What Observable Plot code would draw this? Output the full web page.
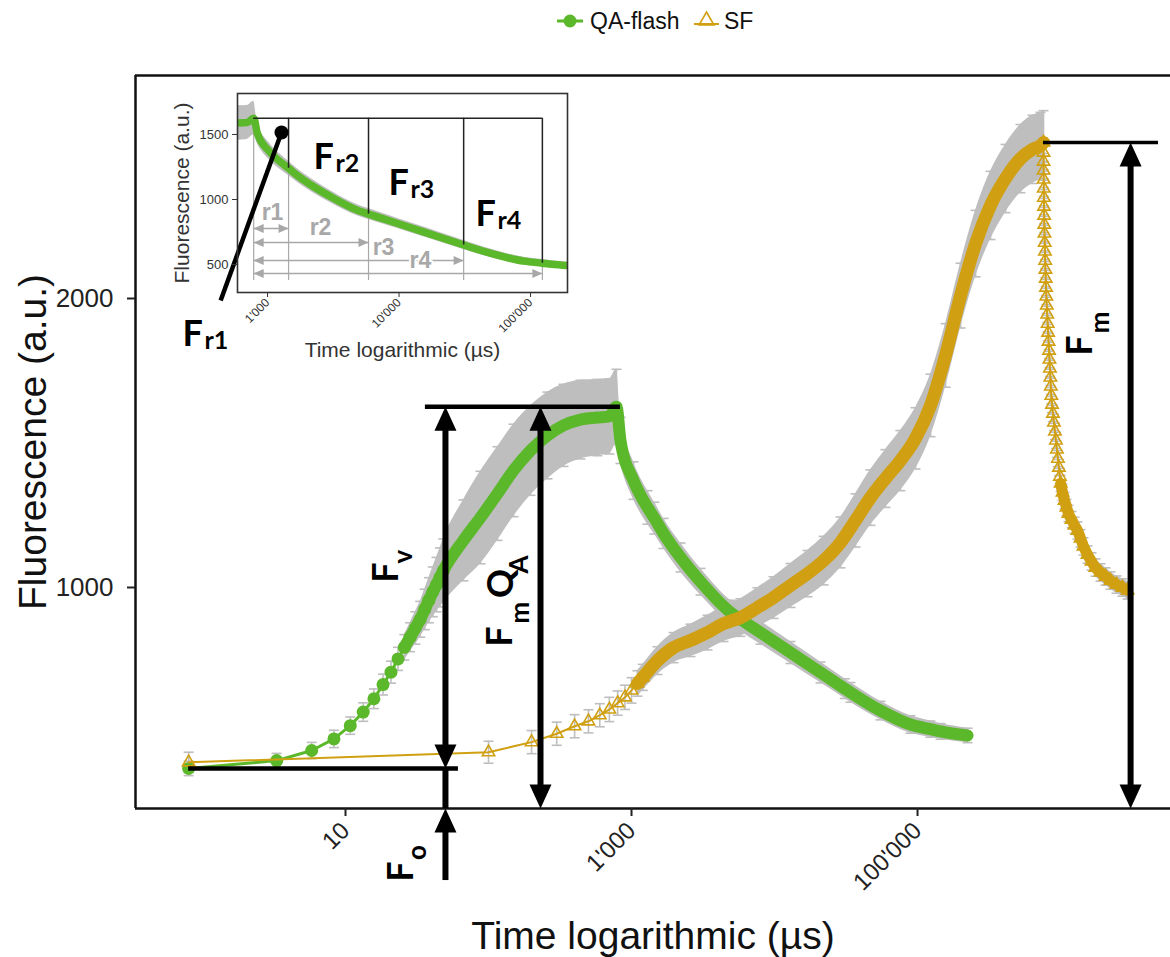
<!DOCTYPE html>
<html>
<head>
<meta charset="utf-8">
<title>QA-flash and SF fluorescence transients</title>
<script src="https://cdn.jsdelivr.net/npm/d3@7"></script>
<script src="https://cdn.jsdelivr.net/npm/@observablehq/plot@0.6"></script>
<style>
  html, body { margin: 0; padding: 0; background: #fff; overflow: hidden; }
  #wrap { position: relative; width: 1170px; height: 957px; }
  #legend svg, #main svg, #inset svg { display: block; }
  #inset { position: absolute; left: 160px; top: 88px; }
</style>
</head>
<body>
<div id="wrap">
  <div id="legend"></div>
  <div id="main"></div>
  <div id="inset"></div>
</div>
<script>
// ---------------------------------------------------------------------------
// Measured fluorescence transients (mean ± error), time in µs
// ---------------------------------------------------------------------------
const seriesNames = ["QA-flash", "SF"];

// QA-flash: rise during the single-turnover flash, then QA- reoxidation
const qaTime = [0.8, 3.3, 5.8, 8.3, 10.8, 13.3, 15.8, 18.3, 20.8, 23.3,
  25.8, 28.3, 30.8, 33.3, 35.8, 38.3, 40.8, 43.3, 45.8, 48.3,
  66.8, 87.9, 115.6, 149.6, 196.8, 258.8, 334.5, 439.5, 577.8, 700,
  784.6, 837, 1032, 1294, 1445, 1675, 2202, 3040, 4925, 5860,
  7980, 12940, 20990, 31000, 33980, 55080, 89320, 123000, 144900, 223700];
const qaValue = [374, 401, 436, 476, 522, 569, 615, 664, 707, 753,
  793, 828, 860, 890, 924, 956, 985, 1010, 1035, 1058,
  1163, 1242, 1325, 1405, 1474, 1526, 1561, 1581, 1588, 1592,
  1625, 1509, 1370, 1277, 1240, 1187, 1104, 1020, 914, 888,
  844, 775, 706, 650, 637, 574, 526, 510, 502, 488];
const qaError = [25, 25, 28, 30, 30, 32, 34, 36, 38, 40,
  44, 50, 56, 62, 70, 78, 86, 94, 102, 110,
  140, 160, 162, 160, 155, 150, 142, 136, 132, 130,
  130, 80, 65, 58, 55, 52, 50, 46, 42, 42,
  40, 38, 36, 34, 34, 32, 30, 28, 27, 25];

// SF: saturating flash, rise to Fm and the dark decay after it
const sfTime = [0.8, 100, 200, 300, 400, 500, 600, 700, 800, 900, 1000, 1100, 1200,
  1520, 1967, 2587, 3400, 4399, 5782, 7600, 9840, 12940, 17010, 22030, 28970, 36850,
  46880, 59640, 75870, 96840, 123300, 157000, 200000, 254700, 323800, 412200, 524800,
  636800, 724400,
  760500, 760600, 760800, 761600, 762400, 763500, 764900, 766400, 768300, 770300,
  772600, 775100, 778000, 781000, 784300, 787900, 791800, 795900, 801400, 807100,
  812900, 818900, 824900, 830900, 837000, 843200, 849400, 855600, 861900, 871500,
  885300, 899500, 913800, 928600, 943400, 958700, 974200, 990100, 1002300,
  1033000, 1066500, 1101000, 1136900, 1193800, 1253000, 1314800, 1380000, 1448400,
  1544700, 1647000, 1756800, 1904000, 2064000, 2237000, 2463000, 2713000, 2942000];
const sfValue = [395, 430, 465, 494, 520, 537, 558, 578, 600, 620, 644, 668, 689,
  747, 792, 817, 844, 875, 896, 931, 965, 1007, 1048, 1093, 1156, 1232,
  1311, 1377, 1439, 1516, 1630, 1803, 2010, 2190, 2322, 2415, 2484,
  2516, 2529,
  2540, 2505, 2474, 2443, 2412, 2381, 2349, 2318, 2287, 2256,
  2225, 2193, 2163, 2131, 2100, 2069, 2038, 2007, 1976, 1945,
  1913, 1882, 1851, 1820, 1789, 1758, 1727, 1696, 1664, 1633,
  1602, 1571, 1540, 1509, 1478, 1446, 1415, 1384, 1360,
  1329, 1301, 1277, 1256, 1235, 1215, 1197, 1170, 1142,
  1114, 1090, 1069, 1052, 1038, 1024, 1010, 1000, 990];
const sfError = [35, 38, 40, 40, 40, 40, 40, 42, 42, 42, 44, 44, 45,
  48, 52, 56, 60, 62, 65, 68, 72, 76, 80, 84, 88, 92,
  96, 100, 104, 106, 108, 110, 112, 115, 118, 118, 118,
  118, 115,
  110, 30, 28, 28, 28, 28, 28, 28, 28, 28,
  28, 28, 28, 28, 28, 28, 28, 28, 28, 28,
  28, 28, 28, 28, 28, 28, 28, 28, 28, 28,
  28, 28, 28, 28, 28, 28, 28, 28, 28,
  28, 28, 28, 28, 28, 28, 30, 30, 30,
  30, 30, 30, 30, 30, 30, 30, 30, 30];

// Axis ticks
const mainXTicks = [10, 1000, 100000];
const mainYTicks = [1000, 2000];
const insetXTicks = [1000, 10000, 100000];
const insetYTicks = [500, 1000, 1500];

// Inset: ends of the relaxation windows r1–r4 (µs)
const rEdges = [1445, 5860, 31000, 123000];
const rNames = ["r1", "r2", "r3", "r4"];
const rArrowLevel = [777, 669, 531, 431];
const rLabelTime = [1091, 2530, 7620, 14550];
const rLabelValue = [900, 785, 631, 531];

// ---------------------------------------------------------------------------
const GREEN = "#5cb82b", GOLD = "#d0a012", GREY = "#bebebe", GUIDE = "#a8a8a8";
const SANS = "'Liberation Sans', Arial, Helvetica, sans-serif";
const BOLD = "Lato, 'Open Sans', 'Liberation Sans', sans-serif";
const fmt = d => d3.format(",")(d).replace(/,/g, "'");
const plain = d => String(d);

const qa = qaTime.map((t, i) => ({t, v: qaValue[i], e: qaError[i]}));
const sf = sfTime.map((t, i) => ({t, v: sfValue[i], e: sfError[i]}));

const Fo = qaValue[0];
const FmQA = d3.max(qaValue);
const Fm = d3.max(sfValue);
const tPeakQA = qa.find(d => d.v === FmQA).t;
const tPeakSF = sf.find(d => d.v === Fm).t;

const X_DOMAIN = [0.34, 5.875e6];
const Y_DOMAIN = [235.3, 2771.6];

// filled arrow heads (apex at the origin, pointing up), error-bar caps
const bigHead = {draw(ctx) { ctx.moveTo(0, 0); ctx.lineTo(11, 24); ctx.lineTo(-11, 24); ctx.closePath(); }};
const smallHead = {draw(ctx) { ctx.moveTo(0, 0); ctx.lineTo(4.5, 10); ctx.lineTo(-4.5, 10); ctx.closePath(); }};
const cap = {draw(ctx) { ctx.moveTo(-5, 0); ctx.lineTo(5, 0); }};

const errorBars = (data, color) => [
  Plot.ruleX(data, {x: "t", y1: d => d.v - d.e, y2: d => d.v + d.e, stroke: color, strokeWidth: 1.6}),
  Plot.dot(data, {x: "t", y: d => d.v + d.e, symbol: cap, stroke: color, fill: "none", strokeWidth: 1.6}),
  Plot.dot(data, {x: "t", y: d => d.v - d.e, symbol: cap, stroke: color, fill: "none", strokeWidth: 1.6})
];
const band = (data) => Plot.areaY(data, {x: "t", y1: d => d.v - d.e, y2: d => d.v + d.e, fill: GREY, curve: "monotone-x"});

// Annotation geometry (data units)
const tFv = 50, tFmQA = 231, tFm = 3.09e6, foArrowStart = -14;
const foLineEnd = 61.6, fmqaLineStart = 36.2, fmqaLineEnd = 837, fmLineEnd = 4.84e6;
const upHeads = [{t: tFv, v: Y_DOMAIN[0]}, {t: tFv, v: FmQA}, {t: tFmQA, v: FmQA}, {t: tFm, v: Fm}];
const downHeads = [{t: tFv, v: Fo}, {t: tFmQA, v: Y_DOMAIN[0]}, {t: tFm, v: Y_DOMAIN[0]}];

const mainLabels = [
  {t: 19.35, v: 1052, text: "F", size: 36}, {t: 25.4, v: 1107, text: "v", size: 26},
  {t: 121.3, v: 830, text: "F", size: 36}, {t: 167.4, v: 913, text: "m", size: 26},
  {t: 123.3, v: 1014, text: "Q", size: 36}, {t: 164.8, v: 1080, text: "A", size: 26},
  {t: 24.6, v: 17, text: "F", size: 36}, {t: 31.9, v: 83, text: "o", size: 26},
  {t: 1.38e6, v: 1837, text: "F", size: 36}, {t: 1.904e6, v: 1917, text: "m", size: 26}
];

// ---------------------------------------------------------------------------
// Legend
const leg = d3.select("#legend").append("svg").attr("width", 1170).attr("height", 46)
  .style("font-family", SANS);
leg.append("line").attr("x1", 557).attr("x2", 583).attr("y1", 21).attr("y2", 21)
  .attr("stroke", GREEN).attr("stroke-width", 3);
leg.append("circle").attr("cx", 570).attr("cy", 21).attr("r", 6.5).attr("fill", GREEN);
leg.append("text").attr("x", 590).attr("y", 29).attr("font-size", 23).attr("fill", "#111").text(seriesNames[0]);
leg.append("line").attr("x1", 694).attr("x2", 719).attr("y1", 24).attr("y2", 24)
  .attr("stroke", GOLD).attr("stroke-width", 2);
leg.append("path").attr("d", "M706.5,12 L714,25 L699,25 Z").attr("fill", "none")
  .attr("stroke", GOLD).attr("stroke-width", 1.6);
leg.append("text").attr("x", 724).attr("y", 29).attr("font-size", 23).attr("fill", "#111").text(seriesNames[1]);

// ---------------------------------------------------------------------------
// Main chart
const main = Plot.plot({
  width: 1170,
  height: 911,
  marginLeft: 135,
  marginRight: 0,
  marginTop: 29,
  marginBottom: 149,
  x: {type: "log", domain: X_DOMAIN},
  y: {domain: Y_DOMAIN},
  style: {fontFamily: SANS, fontSize: "22px", color: "#222", background: "white", overflow: "visible"},
  marks: [
    // panel border (open on the right)
    Plot.ruleY([Y_DOMAIN[0]], {stroke: "#111", strokeWidth: 2.5}),
    Plot.ruleY([Y_DOMAIN[1]], {stroke: "#111", strokeWidth: 2.5}),
    Plot.ruleX([X_DOMAIN[0]], {stroke: "#111", strokeWidth: 2.5}),

    // error bands and bars
    band(qa.filter(d => d.t >= 25)),
    band(sf.filter(d => d.t >= 1100 && d.t <= tPeakSF)),
    band(sf.filter(d => d.t >= 1000000)),
    ...errorBars(qa, GREY),
    ...errorBars(sf, GREY),

    // QA-flash
    Plot.line(qa, {x: "t", y: "v", stroke: GREEN, strokeWidth: 3}),
    Plot.line(qa.filter(d => d.t >= 25.8), {x: "t", y: "v", stroke: GREEN, strokeWidth: 12,
      curve: "monotone-x", strokeLinecap: "round", strokeLinejoin: "round"}),
    Plot.dot(qa.filter(d => d.t <= 48.3), {x: "t", y: "v", r: 6.5, fill: GREEN}),

    // SF
    Plot.line(sf, {x: "t", y: "v", stroke: GOLD, strokeWidth: 2}),
    Plot.line(sf.filter(d => d.t >= 1100 && d.t <= tPeakSF), {x: "t", y: "v", stroke: GOLD, strokeWidth: 13,
      curve: "monotone-x", strokeLinecap: "round", strokeLinejoin: "round"}),
    Plot.line(sf.filter(d => d.t >= 1000000), {x: "t", y: "v", stroke: GOLD, strokeWidth: 11,
      curve: "monotone-x", strokeLinecap: "round", strokeLinejoin: "round"}),
    Plot.dot(sf.filter(d => d.t <= 1200 || d.t >= tPeakSF), {x: "t", y: "v", symbol: "triangle", r: 4.6,
      stroke: GOLD, fill: "none", strokeWidth: 1.6}),

    // Fo, FmQA and Fm levels
    Plot.ruleY([Fo], {x1: qaTime[0], x2: foLineEnd, stroke: "black", strokeWidth: 4.5}),
    Plot.ruleY([FmQA], {x1: fmqaLineStart, x2: fmqaLineEnd, stroke: "black", strokeWidth: 4.5}),
    Plot.ruleY([Fm], {x1: tPeakSF, x2: fmLineEnd, stroke: "black", strokeWidth: 3.5}),

    // arrow shafts (y1 = upper end, y2 = lower end), stopped short of the heads
    Plot.ruleX([tFv], {y1: Y_DOMAIN[0], y2: foArrowStart, insetTop: 20, stroke: "black", strokeWidth: 6}),
    Plot.ruleX([tFv], {y1: Fo, y2: Y_DOMAIN[0], stroke: "black", strokeWidth: 6}),
    Plot.ruleX([tFv], {y1: FmQA, y2: Fo, insetTop: 20, insetBottom: 20, stroke: "black", strokeWidth: 6}),
    Plot.ruleX([tFmQA], {y1: FmQA, y2: Y_DOMAIN[0], insetTop: 20, insetBottom: 20, stroke: "black", strokeWidth: 6}),
    Plot.ruleX([tFm], {y1: Fm, y2: Y_DOMAIN[0], insetTop: 20, insetBottom: 20, stroke: "black", strokeWidth: 6}),
    Plot.dot(upHeads, {x: "t", y: "v", symbol: bigHead, fill: "black", stroke: "none"}),
    Plot.dot(downHeads, {x: "t", y: "v", symbol: bigHead, rotate: 180, fill: "black", stroke: "none"}),

    // parameter labels
    Plot.text(mainLabels, {x: "t", y: "v", text: "text", fontSize: d => d.size, rotate: -90,
      fontFamily: BOLD, fontWeight: "bold", fill: "black", textAnchor: "middle", lineAnchor: "middle"}),

    // axes
    Plot.axisY({ticks: mainYTicks, tickFormat: plain, tickSize: 8, tickPadding: 14, fontSize: 26,
      label: null, strokeWidth: 2}),
    Plot.axisX({ticks: mainXTicks, tickFormat: fmt, tickRotate: -45, tickSize: 8, tickPadding: 10,
      fontSize: 24, label: null, strokeWidth: 2}),
    Plot.text(["Time logarithmic (µs)"], {frameAnchor: "bottom", dy: 128, text: d => d, fontSize: 39,
      lineAnchor: "middle", fill: "#111"}),
    Plot.text(["Fluorescence (a.u.)"], {frameAnchor: "left", dx: -102, rotate: -90, text: d => d, fontSize: 39,
      lineAnchor: "middle", textAnchor: "middle", fill: "#111"})
  ]
});
document.getElementById("main").append(main);

// ---------------------------------------------------------------------------
// Inset: QA- reoxidation windows
const insetData = qa.filter(d => d.t >= 550);
const edgeRows = rEdges.map(t => qa.find(d => d.t === t));
const guideBottom = 377;
const arrowRows = rEdges.map((t, i) => ({x1: tPeakQA, x2: t, y: rArrowLevel[i]}));
const rLabelRows = rNames.map((name, i) => ({t: rLabelTime[i], v: rLabelValue[i], text: name}));
const frLabels = [
  {t: 2238, v: 1238, text: "F", size: 36}, {t: 3289, v: 1208, text: "r2", size: 25},
  {t: 8318, v: 1031, text: "F", size: 36}, {t: 12230, v: 1008, text: "r3", size: 25},
  {t: 38160, v: 800, text: "F", size: 36}, {t: 56100, v: 777, text: "r4", size: 25},
  {t: 225.7, v: -123, text: "F", size: 36}, {t: 331.8, v: -146, text: "r1", size: 25}
];
const fr1Pointer = {x1: 440, y1: 223, x2: 1277, y2: 1515};

const inset = Plot.plot({
  width: 415,
  height: 290,
  marginLeft: 77,
  marginRight: 8,
  marginTop: 5,
  marginBottom: 86,
  x: {type: "log", domain: [591, 191000]},
  y: {domain: [285, 1815]},
  style: {fontFamily: SANS, fontSize: "13px", color: "#333", background: "transparent", overflow: "visible"},
  marks: [
    Plot.frame({fill: "white", stroke: "none"}),
    Plot.areaY(insetData, {x: "t", y1: d => d.v - d.e, y2: d => d.v + d.e, fill: GREY,
      curve: "monotone-x", clip: true}),
    Plot.ruleX([tPeakQA], {y1: guideBottom, y2: FmQA, stroke: GUIDE, strokeWidth: 1.2}),
    Plot.ruleX(edgeRows, {x: "t", y1: guideBottom, y2: "v", stroke: GUIDE, strokeWidth: 1.2}),
    Plot.line(insetData, {x: "t", y: "v", stroke: GREEN, strokeWidth: 7.5, curve: "monotone-x", clip: true}),
    Plot.ruleX(edgeRows, {x: "t", y1: "v", y2: FmQA, stroke: "#222", strokeWidth: 1.5}),
    Plot.ruleY([FmQA], {x1: tPeakQA, x2: rEdges[rEdges.length - 1], stroke: "#222", strokeWidth: 1.5}),

    // r1–r4 window arrows
    Plot.ruleY(arrowRows, {x1: "x1", x2: "x2", y: "y", stroke: GUIDE, strokeWidth: 1.4}),
    Plot.dot(arrowRows, {x: "x1", y: "y", symbol: smallHead, rotate: -90, fill: GUIDE, stroke: "none"}),
    Plot.dot(arrowRows, {x: "x2", y: "y", symbol: smallHead, rotate: 90, fill: GUIDE, stroke: "none"}),
    Plot.text(rLabelRows, {x: "t", y: "v", text: "text", fill: GUIDE, fontSize: 23, fontWeight: "bold",
      stroke: "white", strokeWidth: 4, paintOrder: "stroke"}),

    // Fr labels and the Fr1 pointer
    Plot.link([fr1Pointer], {x1: "x1", y1: "y1", x2: "x2", y2: "y2", stroke: "black", strokeWidth: 4.5}),
    Plot.dot([fr1Pointer], {x: "x2", y: "y2", r: 7, fill: "black"}),
    Plot.text(frLabels, {x: "t", y: "v", text: "text", fontSize: d => d.size, fontFamily: BOLD,
      fontWeight: "bold", fill: "black", textAnchor: "start", lineAnchor: "bottom"}),

    Plot.frame({stroke: "#333", strokeWidth: 1.6}),
    Plot.axisY({ticks: insetYTicks, tickFormat: plain, tickSize: 5, tickPadding: 4, fontSize: 13, label: null}),
    Plot.axisX({ticks: insetXTicks, tickFormat: fmt, tickRotate: -45, tickSize: 5, tickPadding: 3,
      fontSize: 12, label: null}),
    Plot.text(["Fluorescence (a.u.)"], {frameAnchor: "left", dx: -55, rotate: -90, text: d => d,
      fontSize: 21, lineAnchor: "middle", textAnchor: "middle", fill: "#333"}),
    Plot.text(["Time logarithmic (µs)"], {frameAnchor: "bottom", dy: 58, text: d => d,
      fontSize: 21, lineAnchor: "middle", fill: "#333"})
  ]
});
document.getElementById("inset").append(inset);
</script>
</body>
</html>
